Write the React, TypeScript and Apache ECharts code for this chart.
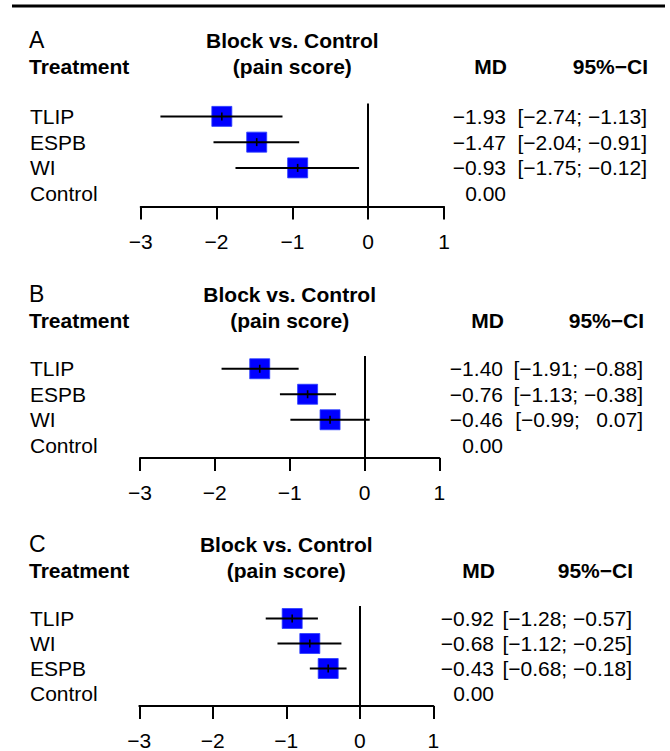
import React, { useEffect, useRef } from "react";
import * as echarts from "echarts";

// ---------- data ----------
const treatmentsA = ["TLIP", "ESPB", "WI", "Control"];
const mdA = [-1.93, -1.47, -0.93, 0];
const lowerA = [-2.74, -2.04, -1.75, null];
const upperA = [-1.13, -0.91, -0.12, null];

const treatmentsB = ["TLIP", "ESPB", "WI", "Control"];
const mdB = [-1.4, -0.76, -0.46, 0];
const lowerB = [-1.91, -1.13, -0.99, null];
const upperB = [-0.88, -0.38, 0.07, null];

const treatmentsC = ["TLIP", "WI", "ESPB", "Control"];
const mdC = [-0.92, -0.68, -0.43, 0];
const lowerC = [-1.28, -1.12, -0.68, null];
const upperC = [-0.57, -0.25, -0.18, null];

const panelLetters = ["A", "B", "C"];
const xTicks = [-3, -2, -1, 0, 1];
const titleLine1 = "Block vs. Control";
const titleLine2 = "(pain score)";
const colTreatment = "Treatment";
const colMD = "MD";
const colCI = "95%\u2212CI";

// ---------- layout ----------
const FONT = '"Liberation Sans", Arial, Helvetica, sans-serif';
const FS = 21;
const layouts = [
  { left: 140.7, right: 444, top: 103.5, bottom: 206.5, mdX: 506, ciX: 647, h1: 40, h2: 66 },
  { left: 140, right: 439.3, top: 356, bottom: 458, mdX: 503, ciX: 643, h1: 294, h2: 320 },
  { left: 139.3, right: 433.3, top: 606, bottom: 707, mdX: 494, ciX: 632, h1: 544, h2: 570 },
];
const panelsData = [
  { rows: treatmentsA, md: mdA, lo: lowerA, hi: upperA },
  { rows: treatmentsB, md: mdB, lo: lowerB, hi: upperB },
  { rows: treatmentsC, md: mdC, lo: lowerC, hi: upperC },
];

const minus = (v: number, d = 2) => (v < 0 ? "\u2212" + Math.abs(v).toFixed(d) : v.toFixed(d));
const ciNum = (v: number) => (v < 0 ? "\u2212" + Math.abs(v).toFixed(2) : "\u2002" + v.toFixed(2));

export default function App() {
  const ref = useRef<HTMLDivElement>(null);
  useEffect(() => {
    document.body.style.margin = "0";
    const chart = echarts.init(ref.current!, null, { renderer: "svg" });
    const grid: any[] = [];
    const xAxis: any[] = [];
    const yAxis: any[] = [];
    const series: any[] = [];
    const graphic: any[] = [
      { type: "rect", shape: { x: 12, y: 4.5, width: 653, height: 3 }, style: { fill: "#000" } },
    ];
    layouts.forEach((L, i) => {
      const P = panelsData[i];
      grid.push({ left: L.left, width: L.right - L.left, top: L.top, height: L.bottom - L.top });
      xAxis.push({
        gridIndex: i,
        type: "value",
        min: -3,
        max: 1,
        interval: 1,
        splitLine: { show: false },
        axisLine: { show: true, onZero: false, lineStyle: { color: "#000", width: 2 } },
        axisTick: { show: true, length: 13, lineStyle: { color: "#000", width: 2 } },
        axisLabel: {
          margin: 24,
          fontSize: FS,
          fontFamily: FONT,
          color: "#000",
          formatter: (v: number) => (xTicks.includes(v) ? (v < 0 ? "\u2212" + Math.abs(v) : String(v)) : ""),
        },
      });
      yAxis.push({
        gridIndex: i,
        type: "category",
        inverse: true,
        data: P.rows,
        axisLine: { show: false },
        axisTick: { show: false },
        splitLine: { show: false },
        axisLabel: {
          interval: 0,
          hideOverlap: false,
          align: "left",
          margin: L.left - 30,
          fontSize: FS,
          fontFamily: FONT,
          color: "#000",
        },
      });
      // zero reference line
      series.push({
        type: "scatter",
        xAxisIndex: i,
        yAxisIndex: i,
        data: [[0, 0]],
        symbolSize: 0,
        silent: true,
        markLine: {
          silent: true,
          symbol: "none",
          label: { show: false },
          lineStyle: { color: "#000", width: 2, type: "solid" },
          data: [{ xAxis: 0 }],
        },
      });
      // CI + squares
      const ciData: any[] = [];
      P.rows.forEach((_, r) => {
        if (P.lo[r] !== null && P.hi[r] !== null) ciData.push([P.md[r], P.lo[r], P.hi[r], r]);
      });
      series.push({
        type: "custom",
        xAxisIndex: i,
        yAxisIndex: i,
        data: ciData,
        encode: { x: [0, 1, 2], y: 3 },
        renderItem: (params: any, api: any) => {
          const md = api.value(0), lo = api.value(1), hi = api.value(2), row = api.value(3);
          const c = api.coord([md, row]);
          const l = api.coord([lo, row]);
          const h = api.coord([hi, row]);
          const s = 20;
          return {
            type: "group",
            children: [
              { type: "rect", shape: { x: c[0] - s / 2, y: c[1] - s / 2, width: s, height: s }, style: { fill: "#0000ff", stroke: "#2a3cff", lineWidth: 0.8 } },
              { type: "line", shape: { x1: l[0], y1: c[1], x2: h[0], y2: c[1] }, style: { stroke: "#000", lineWidth: 2 } },
              { type: "line", shape: { x1: c[0], y1: c[1] - 4, x2: c[0], y2: c[1] + 4 }, style: { stroke: "#000", lineWidth: 1.6 } },
            ],
          };
        },
      });
      // right columns text
      const txtData = P.rows.map((_, r) => [P.md[r], r]);
      series.push({
        type: "custom",
        xAxisIndex: i,
        yAxisIndex: i,
        data: txtData,
        encode: { x: 0, y: 1 },
        clip: false,
        renderItem: (params: any, api: any) => {
          const r = api.value(1);
          const idx = params.dataIndex;
          const c = api.coord([0, r]);
          const lo = P.lo[idx], hi = P.hi[idx];
          const children: any[] = [
            {
              type: "text",
              x: L.mdX,
              y: c[1],
              style: { text: minus(P.md[idx]), align: "right", verticalAlign: "middle", fontSize: FS, fontFamily: FONT, fill: "#000" },
            },
          ];
          if (lo !== null && hi !== null) {
            children.push({
              type: "text",
              x: L.ciX,
              y: c[1],
              style: { text: "[" + ciNum(lo) + "; " + ciNum(hi) + "]", align: "right", verticalAlign: "middle", fontSize: FS, fontFamily: FONT, fill: "#000" },
            });
          }
          return { type: "group", children };
        },
      });
      const cx = (L.left + L.right) / 2;
      const t = (text: string, x: number, y: number, align: string, bold: boolean, size = FS) => ({
        type: "text",
        x,
        y,
        style: { text, align, verticalAlign: "middle", fontSize: size, fontWeight: bold ? "bold" : "normal", fontFamily: FONT, fill: "#000" },
      });
      graphic.push(t(panelLetters[i], 29, L.h1, "left", false, 23));
      graphic.push(t(titleLine1, cx, L.h1, "center", true));
      graphic.push(t(colTreatment, 29, L.h2, "left", true));
      graphic.push(t(titleLine2, cx, L.h2, "center", true));
      graphic.push(t(colMD, L.mdX + 1, L.h2, "right", true));
      graphic.push(t(colCI, L.ciX + 1, L.h2, "right", true));
    });
    chart.setOption({
      animation: false,
      backgroundColor: "#fff",
      grid,
      xAxis,
      yAxis,
      series,
      graphic,
    });
    return () => chart.dispose();
  }, []);
  return <div ref={ref} style={{ width: 670, height: 751 }} />;
}
